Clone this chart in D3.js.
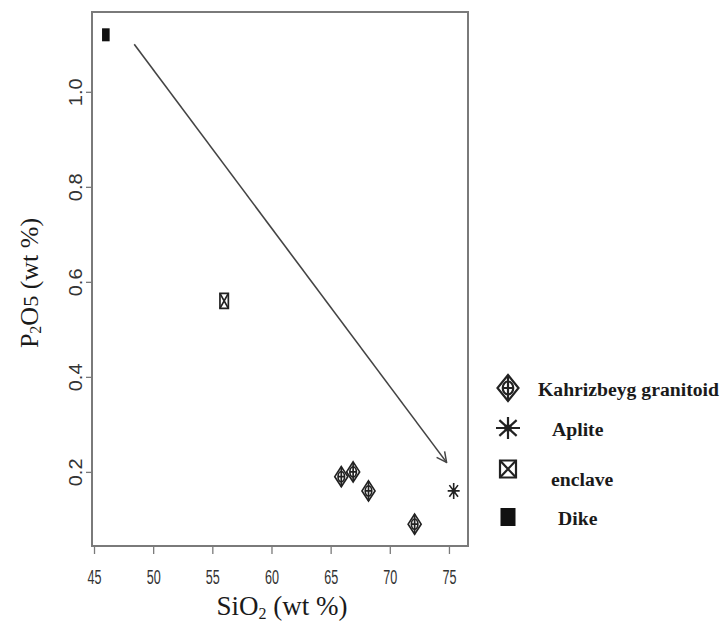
<!DOCTYPE html>
<html>
<head>
<meta charset="utf-8">
<script src="https://cdn.jsdelivr.net/npm/d3@7"></script>
<style>
  html, body { margin: 0; padding: 0; background: #fff; }
  svg { display: block; }
</style>
</head>
<body>
<svg id="chart" width="720" height="626"></svg>
<script>
// Rock groups, SiO2 vs P2O5 (wt %)
const granitoidSiO2 = [65.9, 66.9, 68.2, 72.1];
const granitoidP2O5 = [0.19, 0.20, 0.16, 0.09];
const apliteSiO2 = [75.4];
const apliteP2O5 = [0.16];
const enclaveSiO2 = [56.0];
const enclaveP2O5 = [0.56];
const dikeSiO2 = [46.0];
const dikeP2O5 = [1.12];

// Trend arrow: [SiO2, P2O5] start and end
const trendStart = [48.4, 1.10];
const trendEnd = [74.8, 0.22];

const xTicks = [45, 50, 55, 60, 65, 70, 75];
const yTicks = [0.2, 0.4, 0.6, 0.8, 1.0];
const legendLabels = ["Kahrizbeyg granitoid", "Aplite", "enclave", "Dike"];

const svg = d3.select("#chart");
svg.append("rect").attr("width", 720).attr("height", 626).attr("fill", "#fff");

const plotL = 92, plotR = 468, plotT = 12, plotB = 546;
const x = d3.scaleLinear().domain([44.83, 76.61]).range([plotL, plotR]);
const y = d3.scaleLinear().domain([0.044, 1.168]).range([plotB, plotT]);

const ink = "#222";
const frameInk = "#7a7a7a";

// Axes (ticks only; the frame is drawn separately)
const xAxis = svg.append("g")
  .attr("transform", `translate(0,${plotB})`)
  .call(d3.axisBottom(x).tickValues(xTicks).tickSize(8).tickFormat(d3.format("d")));
xAxis.select(".domain").remove();
xAxis.selectAll(".tick line").attr("stroke", frameInk).attr("stroke-width", 1.3);
xAxis.selectAll(".tick text")
  .attr("y", 0).attr("dy", null)
  .attr("transform", "translate(0,38) scale(0.6,1)")
  .attr("text-anchor", "middle")
  .attr("fill", "#333")
  .style("font-family", "'Liberation Sans', Arial, sans-serif")
  .style("font-size", "21px");

const yAxis = svg.append("g")
  .attr("transform", `translate(${plotL},0)`)
  .call(d3.axisLeft(y).tickValues(yTicks).tickSize(6).tickFormat(d3.format(".1f")));
yAxis.select(".domain").remove();
yAxis.selectAll(".tick line").attr("stroke", frameInk).attr("stroke-width", 1.3);
yAxis.selectAll(".tick text")
  .attr("x", 0).attr("dy", null)
  .attr("transform", "translate(-10,0) rotate(-90) scale(1,0.9)")
  .attr("text-anchor", "middle")
  .attr("fill", "#333")
  .style("font-family", "'Liberation Sans', Arial, sans-serif")
  .style("font-size", "20px");

// Plot frame
svg.append("rect")
  .attr("x", plotL).attr("y", plotT)
  .attr("width", plotR - plotL).attr("height", plotB - plotT)
  .attr("fill", "none").attr("stroke", frameInk).attr("stroke-width", 2);

// Marker shapes in unit coordinates, stretched by (sx, sy)
function drawMarker(g, kind, cx, cy, sx, sy, sw) {
  const m = g.append("g").attr("transform", `translate(${cx},${cy}) scale(${sx},${sy})`);
  const st = sel => sel.attr("fill", "none").attr("stroke", ink)
    .attr("stroke-width", sw).attr("vector-effect", "non-scaling-stroke");
  if (kind === "diamond") {
    st(m.append("path").attr("d", "M0,-1L1,0L0,1L-1,0Z"));
    st(m.append("circle").attr("r", 0.5));
    st(m.append("path").attr("d", "M0,-1V1M-0.5,0H0.5"));
  } else if (kind === "star") {
    st(m.append("path").attr("d", "M0,-1V1M-1,0H1M-0.72,-0.72L0.72,0.72M-0.72,0.72L0.72,-0.72"));
    m.append("circle").attr("r", 0.32).attr("fill", ink);
  } else if (kind === "boxx") {
    st(m.append("rect").attr("x", -1).attr("y", -1).attr("width", 2).attr("height", 2));
    st(m.append("path").attr("d", "M-1,-1L1,1M-1,1L1,-1"));
  } else if (kind === "square") {
    m.append("rect").attr("x", -1).attr("y", -1).attr("width", 2).attr("height", 2).attr("fill", "#111");
  }
}

// Trend arrow
const defs = svg.append("defs");
defs.append("marker")
  .attr("id", "arrowhead").attr("viewBox", "0 0 12 12")
  .attr("refX", 11).attr("refY", 6)
  .attr("markerWidth", 12).attr("markerHeight", 12)
  .attr("markerUnits", "userSpaceOnUse")
  .attr("orient", "auto")
  .append("path").attr("d", "M1,1L11,6L1,11")
  .attr("fill", "none").attr("stroke", "#444").attr("stroke-width", 1.5);

svg.append("line")
  .attr("x1", x(trendStart[0])).attr("y1", y(trendStart[1]))
  .attr("x2", x(trendEnd[0])).attr("y2", y(trendEnd[1]))
  .attr("stroke", "#444").attr("stroke-width", 1.6)
  .attr("marker-end", "url(#arrowhead)");

// Data points
const pts = svg.append("g");
granitoidSiO2.forEach((v, i) => drawMarker(pts, "diamond", x(v), y(granitoidP2O5[i]), 6.5, 10, 1.7));
apliteSiO2.forEach((v, i) => drawMarker(pts, "star", x(v), y(apliteP2O5[i]), 6, 8, 1.6));
enclaveSiO2.forEach((v, i) => drawMarker(pts, "boxx", x(v), y(enclaveP2O5[i]), 4.2, 7.5, 1.7));
dikeSiO2.forEach((v, i) => drawMarker(pts, "square", x(v), y(dikeP2O5[i]), 3.8, 6.5, 1.6));

// Legend
const legend = svg.append("g");
const legendKinds = ["diamond", "star", "boxx", "square"];
const legendRows = [388, 428, 469, 517];
const legendSizes = [[10.5, 13], [12, 11], [8, 8.5], [7.5, 9]];
const legendTextX = [538, 552, 551, 558];
const legendBase = [396, 436, 486, 525];
legendKinds.forEach((k, i) => {
  drawMarker(legend, k, 508, legendRows[i], legendSizes[i][0], legendSizes[i][1], 2.2);
  legend.append("text")
    .attr("x", legendTextX[i]).attr("y", legendBase[i])
    .attr("fill", "#1a1a1a")
    .style("font-family", "'Liberation Serif', 'Times New Roman', serif")
    .style("font-weight", "bold")
    .style("font-size", "19.7px")
    .text(legendLabels[i]);
});

// Axis titles
const xt = svg.append("text")
  .attr("x", 282).attr("y", 615)
  .attr("text-anchor", "middle")
  .attr("fill", "#1a1a1a")
  .style("font-family", "'Liberation Serif', 'Times New Roman', serif")
  .style("font-size", "27px");
xt.append("tspan").text("SiO");
xt.append("tspan").attr("dy", 4).style("font-size", "16px").text("2");
xt.append("tspan").attr("dy", -4).text(" (wt %)");

const yt = svg.append("text")
  .attr("transform", "translate(38,283) rotate(-90)")
  .attr("text-anchor", "middle")
  .attr("fill", "#1a1a1a")
  .style("font-family", "'Liberation Serif', 'Times New Roman', serif")
  .style("font-size", "26px");
yt.append("tspan").text("P");
yt.append("tspan").attr("dy", 3).style("font-size", "16px").text("2");
yt.append("tspan").attr("dy", -3).text("O");
yt.append("tspan").style("font-size", "22px").text("5");
yt.append("tspan").text(" (wt %)");
</script>
</body>
</html>
